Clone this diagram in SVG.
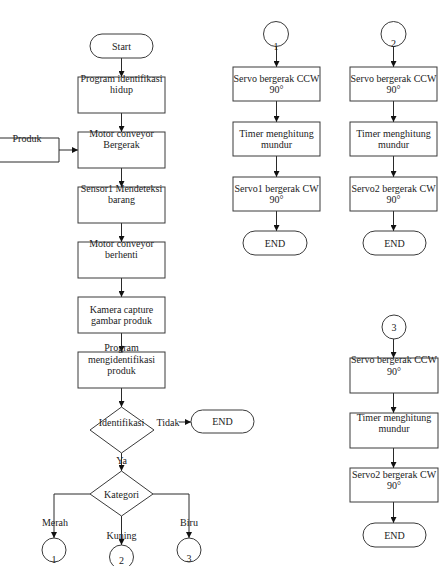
<svg xmlns="http://www.w3.org/2000/svg" width="439" height="566" viewBox="0 0 439 566">
<style>
.s{fill:#fff;stroke:#3a3a3a;stroke-width:1}
.c{fill:none;stroke:#2a2a2a;stroke-width:1}
text{font-family:"Liberation Serif","Times New Roman",serif;font-size:10px;fill:#222;text-anchor:middle}
</style>
<defs>
<marker id="ah" viewBox="0 0 10 10" refX="10" refY="5" markerWidth="7" markerHeight="6" markerUnits="userSpaceOnUse" orient="auto">
<path d="M0,0 L10,5 L0,10 Z" fill="#111"/>
</marker>
</defs>
<g id="connectors">
<line class="c" x1="121.5" y1="58" x2="121.5" y2="77" marker-end="url(#ah)"/>
<line class="c" x1="121.5" y1="113" x2="121.5" y2="132" marker-end="url(#ah)"/>
<line class="c" x1="59" y1="150" x2="78" y2="150" marker-end="url(#ah)"/>
<line class="c" x1="121.5" y1="168" x2="121.5" y2="187" marker-end="url(#ah)"/>
<line class="c" x1="121.5" y1="223" x2="121.5" y2="242" marker-end="url(#ah)"/>
<line class="c" x1="121.5" y1="278" x2="121.5" y2="297" marker-end="url(#ah)"/>
<line class="c" x1="121.5" y1="333" x2="121.5" y2="352" marker-end="url(#ah)"/>
<line class="c" x1="121.5" y1="388" x2="121.5" y2="407" marker-end="url(#ah)"/>
<line class="c" x1="179" y1="422" x2="191" y2="422" marker-end="url(#ah)"/>
<line class="c" x1="121.5" y1="453" x2="121.5" y2="471" marker-end="url(#ah)"/>
<polyline class="c" points="90,494 54,494 54,538" marker-end="url(#ah)"/>
<polyline class="c" points="153,494 189,494 189,538" marker-end="url(#ah)"/>
<line class="c" x1="121.5" y1="516" x2="121.5" y2="545" marker-end="url(#ah)"/>
<line class="c" x1="276.5" y1="46" x2="276.5" y2="67" marker-end="url(#ah)"/>
<line class="c" x1="276.5" y1="101" x2="276.5" y2="122" marker-end="url(#ah)"/>
<line class="c" x1="276.5" y1="156" x2="276.5" y2="177" marker-end="url(#ah)"/>
<line class="c" x1="276.5" y1="211" x2="276.5" y2="231" marker-end="url(#ah)"/>
<line class="c" x1="393.5" y1="46" x2="393.5" y2="67" marker-end="url(#ah)"/>
<line class="c" x1="393.5" y1="101" x2="393.5" y2="122" marker-end="url(#ah)"/>
<line class="c" x1="393.5" y1="156" x2="393.5" y2="177" marker-end="url(#ah)"/>
<line class="c" x1="393.5" y1="211" x2="393.5" y2="231" marker-end="url(#ah)"/>
<line class="c" x1="393.5" y1="339" x2="393.5" y2="358" marker-end="url(#ah)"/>
<line class="c" x1="393.5" y1="393" x2="393.5" y2="413" marker-end="url(#ah)"/>
<line class="c" x1="393.5" y1="448" x2="393.5" y2="468" marker-end="url(#ah)"/>
<line class="c" x1="393.5" y1="502" x2="393.5" y2="523" marker-end="url(#ah)"/>
</g>
<g id="start"><rect class="s" x="90" y="34" width="63" height="24" rx="12"/><text x="121.5" y="49.5">Start</text></g>
<g id="prog-hidup"><rect class="s" x="78" y="77" width="87" height="36"/><text x="121.5" y="82">Program identifikasi</text><text x="121.5" y="93">hidup</text></g>
<g id="motor-bergerak"><rect class="s" x="78" y="132" width="87" height="36"/><text x="121.5" y="137">Motor conveyor</text><text x="121.5" y="148">Bergerak</text></g>
<g id="produk"><polyline class="c" points="0,138 59,138 59,162 0,162"/><text x="27" y="141.5">Produk</text></g>
<g id="sensor"><rect class="s" x="78" y="187" width="87" height="36"/><text x="121.5" y="192">Sensor1 Mendeteksi</text><text x="121.5" y="203">barang</text></g>
<g id="motor-berhenti"><rect class="s" x="78" y="242" width="87" height="36"/><text x="121.5" y="247">Motor conveyor</text><text x="121.5" y="258">berhenti</text></g>
<g id="kamera"><rect class="s" x="78" y="297" width="87" height="36"/><text x="121.5" y="312.5">Kamera capture</text><text x="121.5" y="323.5">gambar produk</text></g>
<g id="prog-ident"><rect class="s" x="78" y="352" width="87" height="36"/><text x="121.5" y="350.5">Program</text><text x="121.5" y="362.5">mengidentifikasi</text><text x="121.5" y="373.5">produk</text></g>
<g id="identifikasi"><polygon class="s" points="121.5,407 154,430 121.5,453 90,430"/><text x="121.5" y="425.5">Identifikasi</text></g>
<g id="tidak-label"><text x="168" y="425.5">Tidak</text></g>
<g id="end-main"><rect class="s" x="191" y="410" width="63" height="23" rx="11.5"/><text x="222.5" y="425">END</text></g>
<g id="ya-label"><text x="121.5" y="463.5">Ya</text></g>
<g id="kategori"><polygon class="s" points="121.5,471 153,494 121.5,516 90,494"/><text x="121.5" y="497.5">Kategori</text></g>
<g id="labels-kat"><text x="55" y="525.5">Merah</text><text x="121.5" y="538.5">Kuning</text><text x="189" y="525.5">Biru</text></g>
<g id="c1"><circle class="s" cx="54" cy="550" r="12"/><text x="54" y="562.5">1</text></g>
<g id="c2"><circle class="s" cx="121.5" cy="557" r="12"/><text x="121.5" y="563.5">2</text></g>
<g id="c3"><circle class="s" cx="189" cy="550" r="12"/><text x="189" y="561.5">3</text></g>
<g id="r1-c"><circle class="s" cx="276" cy="34" r="12.5"/><text x="276" y="49.5">1</text></g>
<g id="r1-b1"><rect class="s" x="233" y="67" width="87" height="34"/><text x="276.5" y="81.5">Servo bergerak CCW</text><text x="276.5" y="92.5">90°</text></g>
<g id="r1-b2"><rect class="s" x="233" y="122" width="87" height="34"/><text x="276.5" y="136.5">Timer menghitung</text><text x="276.5" y="147.5">mundur</text></g>
<g id="r1-b3"><rect class="s" x="233" y="177" width="87" height="34"/><text x="276.5" y="191.5">Servo1 bergerak CW</text><text x="276.5" y="202.5">90°</text></g>
<g id="r1-end"><rect class="s" x="243" y="231" width="64" height="24" rx="12"/><text x="275" y="246.5">END</text></g>
<g id="r2-c"><circle class="s" cx="393.5" cy="34" r="12.5"/><text x="393.5" y="46.5">2</text></g>
<g id="r2-b1"><rect class="s" x="350" y="67" width="87" height="34"/><text x="393.5" y="81.5">Servo bergerak CCW</text><text x="393.5" y="92.5">90°</text></g>
<g id="r2-b2"><rect class="s" x="350" y="122" width="87" height="34"/><text x="393.5" y="136.5">Timer menghitung</text><text x="393.5" y="147.5">mundur</text></g>
<g id="r2-b3"><rect class="s" x="350" y="177" width="87" height="34"/><text x="393.5" y="191.5">Servo2 bergerak CW</text><text x="393.5" y="202.5">90°</text></g>
<g id="r2-end"><rect class="s" x="363" y="231" width="63" height="24" rx="12"/><text x="394.5" y="246.5">END</text></g>
<g id="r3-c"><circle class="s" cx="394" cy="327" r="12"/><text x="394" y="330.5">3</text></g>
<g id="r3-b1"><rect class="s" x="350" y="358" width="88" height="35"/><text x="394" y="362.5">Servo bergerak CCW</text><text x="394" y="374.5">90°</text></g>
<g id="r3-b2"><rect class="s" x="350" y="413" width="88" height="35"/><text x="394" y="420.5">Timer menghitung</text><text x="394" y="431.5">mundur</text></g>
<g id="r3-b3"><rect class="s" x="350" y="468" width="88" height="34"/><text x="394" y="478">Servo2 bergerak CW</text><text x="394" y="489">90°</text></g>
<g id="r3-end"><rect class="s" x="363" y="523" width="63" height="24" rx="12"/><text x="394.5" y="538.5">END</text></g>
</svg>
